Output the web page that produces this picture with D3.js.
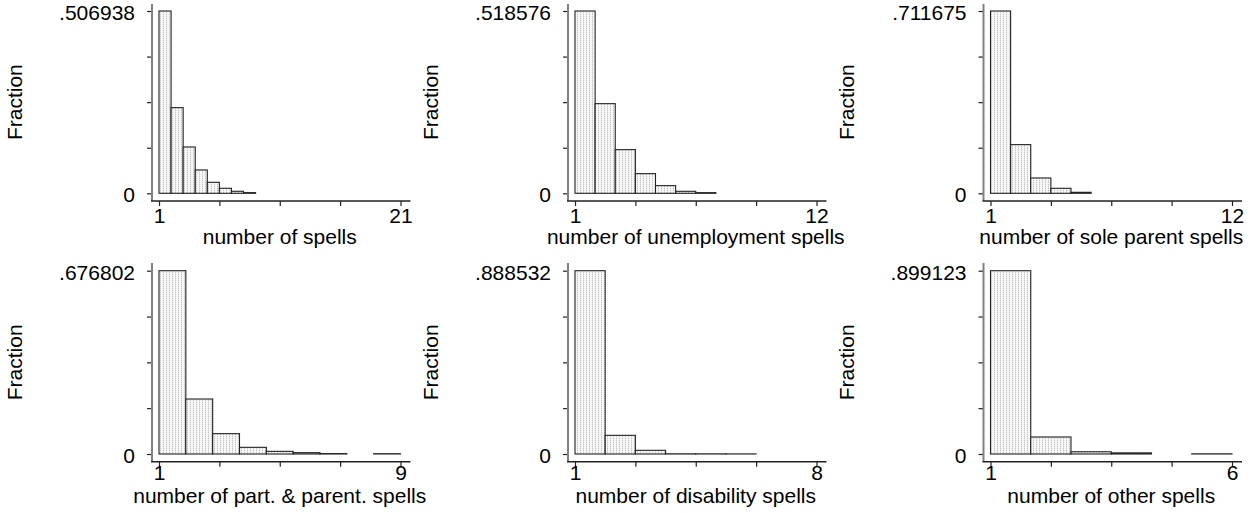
<!DOCTYPE html>
<html>
<head>
<meta charset="utf-8">
<script src="https://cdn.jsdelivr.net/npm/d3@7"></script>
<style>
  body { margin: 0; background: #fff; }
  text { font-family: Arial, "Liberation Sans", sans-serif; }
</style>
</head>
<body>
<svg id="chart" width="1251" height="513"></svg>
<script>
// Six histograms of spell counts, each on its own x range (min 1 to max),
// y axis as fraction of persons.
const xTitles = [
  "number of spells",
  "number of unemployment spells",
  "number of sole parent spells",
  "number of part. & parent. spells",
  "number of disability spells",
  "number of other spells"
];
const xMaxValues = [21, 12, 12, 9, 8, 6];
const binCounts = [20, 12, 12, 9, 8, 6];
const yTopLabels = [".506938", ".518576", ".711675", ".676802", ".888532", ".899123"];

// Fraction in each bin (bins of equal width between 1 and the maximum)
const fracAll        = [0.506938, 0.2382, 0.1288, 0.0649, 0.0306, 0.0139, 0.0056, 0.0019,
                        0, 0, 0, 0, 0, 0, 0, 0, 0, 0, 0, 0];
const fracUnemploy   = [0.518576, 0.2550, 0.1242, 0.0559, 0.0218, 0.0057, 0.0019, 0, 0, 0, 0, 0];
const fracSoleParent = [0.711675, 0.1900, 0.0598, 0.0195, 0.0039, 0, 0, 0, 0, 0, 0, 0];
const fracPartParent = [0.676802, 0.2030, 0.0751, 0.0246, 0.0098, 0.0049, 0.0015, 0, 0.0010];
const fracDisability = [0.888532, 0.0905, 0.0178, 0.0010, 0.0008, 0.0005, 0, 0];
const fracOther      = [0.899123, 0.0834, 0.0110, 0.0055, 0, 0.0010];

const fractions = [fracAll, fracUnemploy, fracSoleParent, fracPartParent, fracDisability, fracOther];

const svg = d3.select("#chart");
const fontSize = 21;

// light stippled fill used by all bars
const defs = svg.append("defs");
const pat = defs.append("pattern")
  .attr("id", "stipple")
  .attr("patternUnits", "userSpaceOnUse")
  .attr("width", 3).attr("height", 2);
pat.append("rect").attr("width", 3).attr("height", 2).attr("fill", "#f7f7f7");
pat.append("rect").attr("x", 1).attr("y", 0).attr("width", 1).attr("height", 1).attr("fill", "#c4c4c4");
pat.append("rect").attr("x", 1).attr("y", 1).attr("width", 1).attr("height", 1).attr("fill", "#e6e6e6");

const colX = [159, 575, 990.5];
const plotW = 241.5;
const rows = [
  { top: 11,    base: 193.3, axisY: 201,   frameTop: 4,   labelPad: 2,  titleY: 244 },
  { top: 270.7, base: 454,   axisY: 461.7, frameTop: 263, labelPad: -2, titleY: 503 }
];

fractions.forEach((vals, i) => {
  const r = rows[Math.floor(i / 3)];
  const x0 = colX[i % 3];
  const xMax = xMaxValues[i];
  const yMax = +yTopLabels[i];
  const nb = binCounts[i];
  const bw = (xMax - 1) / nb;

  const x = d3.scaleLinear().domain([1, xMax]).range([x0, x0 + plotW]);
  const y = d3.scaleLinear().domain([0, yMax]).range([r.base, r.top]);

  const g = svg.append("g");

  // bars
  const bins = vals.map((v, k) => ({ x0: 1 + k * bw, x1: 1 + (k + 1) * bw, v }))
    .filter(d => d.v > 0);
  g.selectAll("rect.bar").data(bins).join("rect")
    .attr("class", "bar")
    .attr("x", d => x(d.x0))
    .attr("width", d => x(d.x1) - x(d.x0))
    .attr("y", d => y(d.v))
    .attr("height", d => Math.max(0, y(0) - y(d.v)))
    .attr("fill", "url(#stipple)")
    .attr("stroke", "#222")
    .attr("stroke-width", 1.1);

  // y axis
  const yTicks = [0, yMax / 4, yMax / 2, 3 * yMax / 4, yMax];
  const yAxis = g.append("g")
    .attr("transform", `translate(${x0 - 7},0)`)
    .call(d3.axisLeft(y).tickValues(yTicks).tickSize(5).tickPadding(12)
      .tickFormat((d, k) => k === 0 ? "0" : (k === 4 ? yTopLabels[i] : "")));
  yAxis.select(".domain").remove();
  yAxis.selectAll("line").attr("stroke", "#222").attr("stroke-width", 1.2);
  yAxis.selectAll("text").attr("font-size", fontSize).attr("fill", "#000")
    .attr("font-family", "Arial, 'Liberation Sans', sans-serif").attr("dy", "0.4em");
  g.append("line")
    .attr("x1", x0 - 7).attr("x2", x0 - 7)
    .attr("y1", r.frameTop).attr("y2", r.axisY)
    .attr("stroke", "#808080").attr("stroke-width", 2);

  // x axis
  const xTicks = d3.range(5).map(k => 1 + k * (xMax - 1) / 4);
  const xAxis = g.append("g")
    .attr("transform", `translate(0,${r.axisY})`)
    .call(d3.axisBottom(x).tickValues(xTicks).tickSize(5).tickPadding(r.labelPad)
      .tickFormat((d, k) => k === 0 ? "1" : (k === 4 ? String(xMax) : "")));
  xAxis.select(".domain").remove();
  xAxis.selectAll("line").attr("stroke", "#222").attr("stroke-width", 1.2);
  xAxis.selectAll("text").attr("font-size", fontSize).attr("fill", "#000")
    .attr("font-family", "Arial, 'Liberation Sans', sans-serif");
  g.append("line")
    .attr("x1", x0 - 8).attr("x2", x0 + plotW + 10)
    .attr("y1", r.axisY).attr("y2", r.axisY)
    .attr("stroke", "#222").attr("stroke-width", 1.5);

  // axis titles
  g.append("text")
    .attr("x", x0 + plotW / 2).attr("y", r.titleY)
    .attr("text-anchor", "middle").attr("font-size", fontSize)
    .text(xTitles[i]);
  g.append("text")
    .attr("transform", `translate(${x0 - 137},${(r.top + r.base) / 2}) rotate(-90)`)
    .attr("text-anchor", "middle").attr("font-size", fontSize)
    .text("Fraction");
});
</script>
</body>
</html>
